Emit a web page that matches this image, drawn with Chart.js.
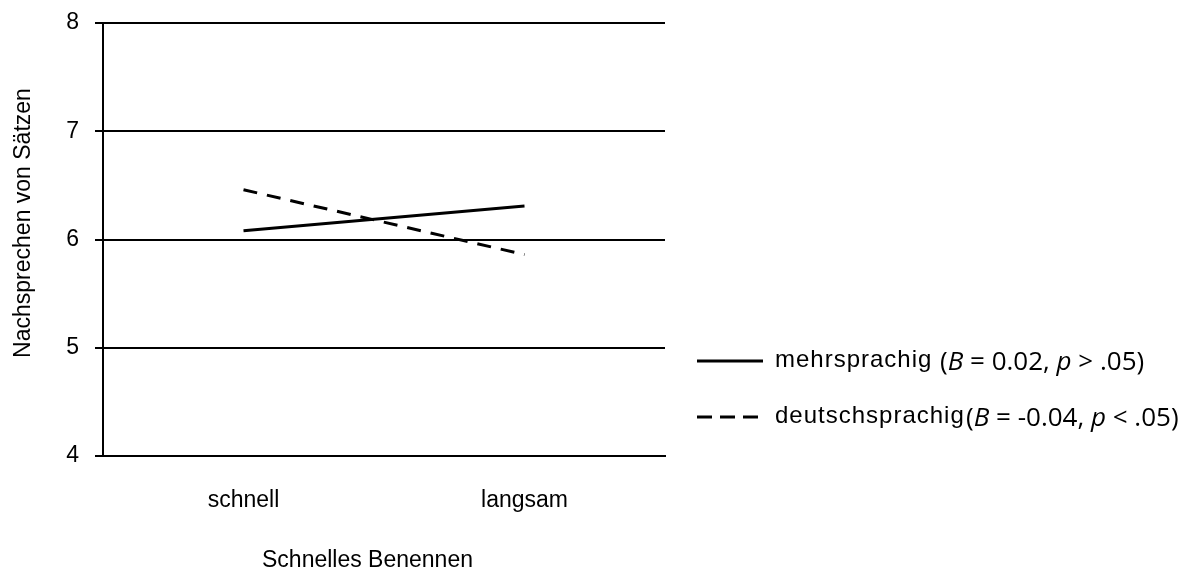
<!DOCTYPE html>
<html>
<head>
<meta charset="utf-8">
<script src="https://cdn.jsdelivr.net/npm/chart.js@4"></script>
<style>
  html, body { margin: 0; padding: 0; background: #fff; }
  #wrap { width: 1199px; height: 568px; }
</style>
</head>
<body>
<div id="wrap"><canvas id="chart" width="1199" height="568"></canvas></div>
<script>
// categories of the x axis
const categories = ['schnell', 'langsam'];

// series values
const mehrsprachig = [6.08, 6.31];
const deutschsprachig = [6.46, 5.86];

// labels
const yTitle = 'Nachsprechen von Sätzen';
const xTitle = 'Schnelles Benennen';
const legendNames = ['mehrsprachig', 'deutschsprachig'];
const legendStats = [
  [['(', false], ['B', true], [' = 0.02, ', false], ['p', true], [' > .05)', false]],
  [['(', false], ['B', true], [' = -0.04, ', false], ['p', true], [' < .05)', false]]
];

const axisFont = 'Liberation Sans, Arial, sans-serif';

// titres des axes + légende dessinés à la main
const extraText = {
  id: 'extraText',
  afterDraw(chart) {
    const ctx = chart.ctx;
    ctx.save();
    ctx.fillStyle = '#000';

    // titre axe y
    ctx.save();
    ctx.font = '23px ' + axisFont;
    ctx.textAlign = 'center';
    ctx.textBaseline = 'middle';
    ctx.translate(24, 223);
    ctx.rotate(-Math.PI / 2);
    ctx.fillText(yTitle, 0, 0);
    ctx.restore();

    // titre axe x
    ctx.font = '23px ' + axisFont;
    ctx.textAlign = 'left';
    ctx.textBaseline = 'alphabetic';
    ctx.fillText(xTitle, 262, 567);

    // légende
    const rows = [361, 417];
    const statX = [940, 966];
    const dashes = [[], [15, 8]];
    rows.forEach((y, i) => {
      ctx.save();
      ctx.strokeStyle = '#000';
      ctx.lineWidth = 3;
      ctx.setLineDash(dashes[i]);
      ctx.beginPath();
      ctx.moveTo(697, y);
      ctx.lineTo(763, y);
      ctx.stroke();
      ctx.restore();

      ctx.save();
      ctx.font = '24px ' + axisFont;
      ctx.letterSpacing = '1px';
      ctx.textAlign = 'left';
      ctx.textBaseline = 'alphabetic';
      ctx.fillText(legendNames[i], 775, y + 6);
      ctx.restore();

      let x = statX[i];
      legendStats[i].forEach(([txt, italic]) => {
        ctx.font = (italic ? 'italic ' : '') + '26px "Open Sans", sans-serif';
        ctx.fillText(txt, x, y + 9);
        x += ctx.measureText(txt).width;
      });
    });
    ctx.restore();
  }
};

new Chart(document.getElementById('chart'), {
  type: 'line',
  data: {
    labels: categories,
    datasets: [{
      label: legendNames[0],
      data: mehrsprachig,
      borderColor: '#000',
      borderWidth: 3,
      pointRadius: 0,
      tension: 0,
      fill: false
    }, {
      label: legendNames[1],
      data: deutschsprachig,
      borderColor: '#000',
      borderWidth: 3,
      borderDash: [14, 10],
      pointRadius: 0,
      tension: 0,
      fill: false
    }]
  },
  options: {
    responsive: false,
    animation: false,
    layout: { padding: { top: 23, right: 534, bottom: 0, left: 0 } },
    plugins: {
      legend: { display: false },
      tooltip: { enabled: false }
    },
    scales: {
      x: {
        type: 'category',
        offset: true,
        grid: { display: false },
        border: { display: true, color: '#000', width: 2 },
        ticks: { color: '#000', padding: 23, font: { family: axisFont, size: 23 } },
        afterFit: scale => { scale.height = 112; }
      },
      y: {
        min: 4,
        max: 8,
        ticks: { stepSize: 1, color: '#000', padding: 16, font: { family: axisFont, size: 23 } },
        grid: { color: '#000', lineWidth: 2, tickLength: 8 },
        border: { display: true, color: '#000', width: 2 },
        afterFit: scale => {
          scale.width = 103;
          scale.paddingTop = 0;
          scale.paddingBottom = 0;
        }
      }
    }
  },
  plugins: [extraText]
});
</script>
</body>
</html>
